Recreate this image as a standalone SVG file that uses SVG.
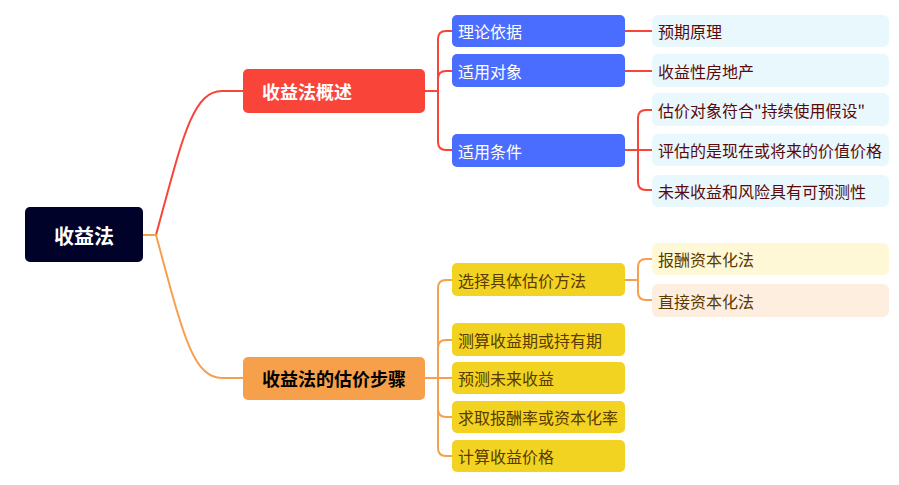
<svg xmlns="http://www.w3.org/2000/svg" width="899" height="485" viewBox="0 0 899 485">
<style>
text{font-family:"Noto Sans CJK SC","Noto Sans",sans-serif;dominant-baseline:central}
.c{fill:none;stroke-width:2;stroke-linecap:round}
.r{stroke:#F9443A}.o{stroke:#F7A04C}
.t16{font-size:16px}
.b{font-weight:bold;font-size:18px}
.blue{fill:#4A6CFF}.lb{fill:#E9F8FD}.yel{fill:#F2D322}
.wt{fill:#FFFFFF}.mt{fill:#5A0A0A}.yt{fill:#5A3A00}
</style>
<g id="connectors">
<path class="c r" d="M143 235 H156 C182 140 192 91 222 91 H243"/>
<path class="c o" d="M143 235 H156 C182 330 192 378 222 378 H243"/>
<path class="c r" d="M425 91 H438"/>
<path class="c r" d="M452 31 H446 Q438 31 438 39 V142 Q438 150 446 150 H452"/>
<path class="c r" d="M438 79 Q438 71 446 71 H452"/>
<path class="c r" d="M625 31 H652"/>
<path class="c r" d="M625 71 H652"/>
<path class="c r" d="M625 150 H638"/>
<path class="c r" d="M652 110 H646 Q638 110 638 118 V182 Q638 190 646 190 H652"/>
<path class="c r" d="M638 150 H652"/>
<path class="c o" d="M425 378 H438"/>
<path class="c o" d="M452 280 H446 Q438 280 438 288 V448 Q438 456 446 456 H452"/>
<path class="c o" d="M438 348 Q438 340 446 340 H452"/>
<path class="c o" d="M438 378 H452"/>
<path class="c o" d="M438 409 Q438 417 446 417 H452"/>
<path class="c o" d="M625 280 H638"/>
<path class="c o" d="M652 259 H646 Q638 259 638 267 V292 Q638 300 646 300 H652"/>
</g>
<g id="root"><rect x="25" y="207" width="118" height="55" rx="5" fill="#000229"/><text x="84" y="235" text-anchor="middle" class="wt" font-weight="bold" font-size="20">收益法</text></g>
<g id="n1"><rect x="243" y="69" width="182" height="44" rx="5" fill="#F9443A"/><text x="262" y="91" class="b wt">收益法概述</text></g>
<g id="n2"><rect x="243" y="357" width="182" height="43" rx="5" fill="#F7A04C"/><text x="262" y="378" class="b" fill="#000000">收益法的估价步骤</text></g>
<g id="n1a"><rect class="blue" x="452" y="15" width="173" height="32" rx="5"/><text x="458" y="31" class="t16 wt">理论依据</text></g>
<g id="n1b"><rect class="blue" x="452" y="54" width="173" height="33" rx="5"/><text x="458" y="70.5" class="t16 wt">适用对象</text></g>
<g id="n1c"><rect class="blue" x="452" y="134" width="173" height="33" rx="5"/><text x="458" y="150.5" class="t16 wt">适用条件</text></g>
<g id="l1"><rect class="lb" x="652" y="15" width="237" height="32" rx="6"/><text x="658" y="31" class="t16 mt">预期原理</text></g>
<g id="l2"><rect class="lb" x="652" y="54" width="237" height="33" rx="6"/><text x="658" y="70.5" class="t16 mt">收益性房地产</text></g>
<g id="l3"><rect class="lb" x="652" y="93" width="237" height="33" rx="6"/><text x="658" y="109.5" class="t16 mt">估价对象符合"持续使用假设"</text></g>
<g id="l4"><rect class="lb" x="652" y="134" width="237" height="32" rx="6"/><text x="658" y="150" class="t16 mt">评估的是现在或将来的价值价格</text></g>
<g id="l5"><rect class="lb" x="652" y="175" width="237" height="32" rx="6"/><text x="658" y="191" class="t16 mt">未来收益和风险具有可预测性</text></g>
<g id="n2a"><rect class="yel" x="452" y="263" width="173" height="33" rx="5"/><text x="458" y="279.5" class="t16 yt">选择具体估价方法</text></g>
<g id="n2b"><rect class="yel" x="452" y="323" width="173" height="33" rx="5"/><text x="458" y="339.5" class="t16 yt">测算收益期或持有期</text></g>
<g id="n2c"><rect class="yel" x="452" y="362" width="173" height="32" rx="5"/><text x="458" y="378" class="t16 yt">预测未来收益</text></g>
<g id="n2d"><rect class="yel" x="452" y="401" width="173" height="32" rx="5"/><text x="458" y="417" class="t16 yt">求取报酬率或资本化率</text></g>
<g id="n2e"><rect class="yel" x="452" y="440" width="173" height="32" rx="5"/><text x="458" y="456" class="t16 yt">计算收益价格</text></g>
<g id="l6"><rect x="652" y="243" width="237" height="32" rx="6" fill="#FFF8D6"/><text x="658" y="259" class="t16 yt">报酬资本化法</text></g>
<g id="l7"><rect x="652" y="284" width="237" height="33" rx="6" fill="#FDEEE0"/><text x="658" y="300.5" class="t16 yt">直接资本化法</text></g>
</svg>
